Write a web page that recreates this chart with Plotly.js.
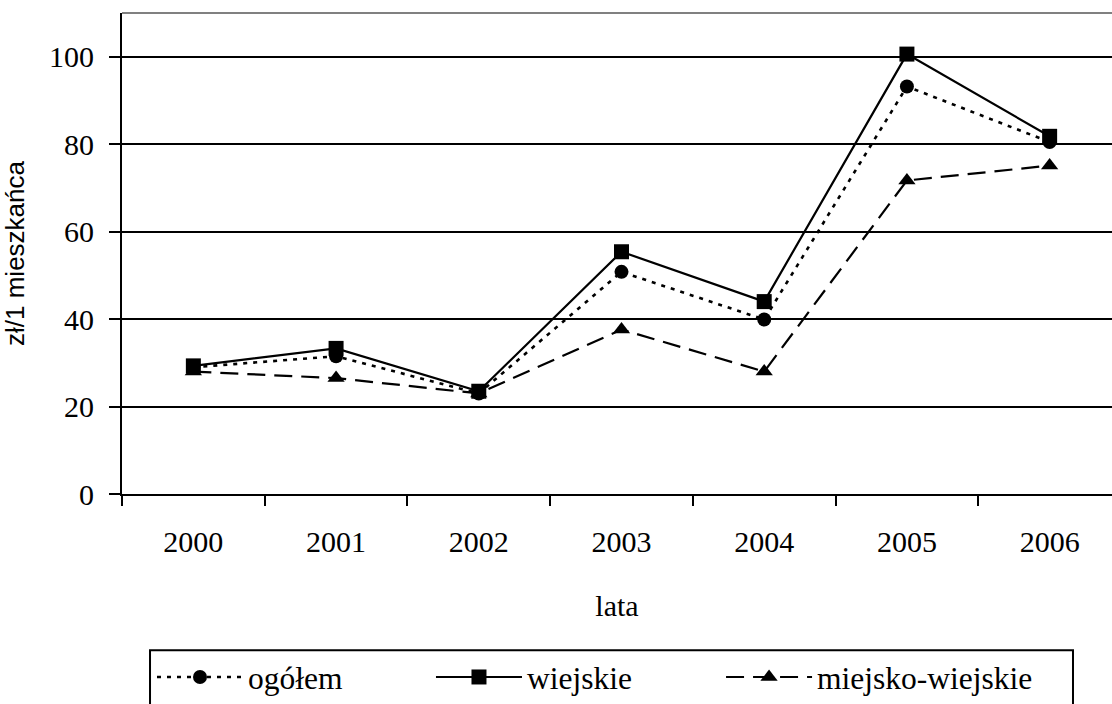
<!DOCTYPE html>
<html>
<head>
<meta charset="utf-8">
<script src="https://cdn.plot.ly/plotly-3.0.1.min.js"></script>
<style>html,body{margin:0;padding:0;background:#fff;}#chart{width:1112px;height:704px;}</style>
</head>
<body>
<div id="chart"></div>
<script>
const years = ["2000","2001","2002","2003","2004","2005","2006"];
const ogolem = [29, 31.5, 23, 50.8, 39.9, 93.2, 80.5];
const wiejskie = [29.3, 33.3, 23.5, 55.4, 44, 100.6, 81.8];
const miejskoWiejskie = [28, 26.5, 23, 37.6, 28, 71.7, 75.1];
const yTicks = [0, 20, 40, 60, 80, 100];

const serif = "Liberation Serif, Times New Roman, serif";
const sans = "Liberation Sans, Arial, sans-serif";

const traces = [
  {x: years, y: ogolem, name: "ogółem", type: "scatter", mode: "lines+markers", legend: "legend",
   line: {color: "#000", width: 2.6, dash: "4px,6px"},
   marker: {symbol: "circle", size: 14, color: "#000"}},
  {x: years, y: wiejskie, name: "wiejskie", type: "scatter", mode: "lines+markers", legend: "legend2",
   line: {color: "#000", width: 2.2},
   marker: {symbol: "square", size: 15, color: "#000"}},
  {x: years, y: miejskoWiejskie, name: "miejsko-wiejskie", type: "scatter", mode: "lines+markers", legend: "legend3",
   line: {color: "#000", width: 2.2, dash: "18px,9px"},
   marker: {symbol: "triangle-up", size: 15, color: "#000"}}
];

function leg(x) {
  return {
    orientation: "h", x: x, xanchor: "left", y: -0.325, yanchor: "top",
    borderwidth: 0, bgcolor: "rgba(0,0,0,0)",
    font: {family: serif, size: 31.5, color: "#000"},
    itemwidth: 86
  };
}

const layout = {
  width: 1112, height: 704,
  margin: {l: 122, r: 0, t: 13, b: 208},
  paper_bgcolor: "#fff", plot_bgcolor: "#fff",
  showlegend: true,
  xaxis: {
    type: "category", range: [-0.5, 6.437], tickson: "boundaries",
    showgrid: false, zeroline: false,
    showline: true, linecolor: "#000", linewidth: 2,
    ticks: "outside", ticklen: 10, tickwidth: 2, tickcolor: "#000",
    tickfont: {family: serif, size: 30, color: "#000"},
    ticklabelstandoff: 20,
    title: {text: "lata", font: {family: serif, size: 30, color: "#000"}, standoff: 38}
  },
  yaxis: {
    range: [0, 110], tickvals: yTicks, ticktext: yTicks.map(String),
    showgrid: true, gridcolor: "#000", gridwidth: 2,
    zeroline: false, showline: true, linecolor: "#000", linewidth: 2,
    ticks: "outside", ticklen: 11, tickwidth: 2, tickcolor: "#000",
    tickfont: {family: serif, size: 30, color: "#000"},
    ticklabelstandoff: 9,
    title: {text: "zł/1 mieszkańca", font: {family: sans, size: 26, color: "#000"}, standoff: 23}
  },
  shapes: [
    {type: "line", xref: "paper", yref: "paper", x0: 0, x1: 1, y0: 1, y1: 1,
     line: {color: "#808080", width: 2}},
    {type: "rect", xref: "paper", yref: "paper", x0: 0.0283, x1: 0.9606, y0: -0.325, y1: -0.50,
     line: {color: "#000", width: 2}, fillcolor: "rgba(0,0,0,0)"}
  ],
  legend: leg(0.0303),
  legend2: leg(0.3121),
  legend3: leg(0.6051)
};

Plotly.newPlot("chart", traces, layout, {displayModeBar: false, staticPlot: true});
</script>
</body>
</html>
